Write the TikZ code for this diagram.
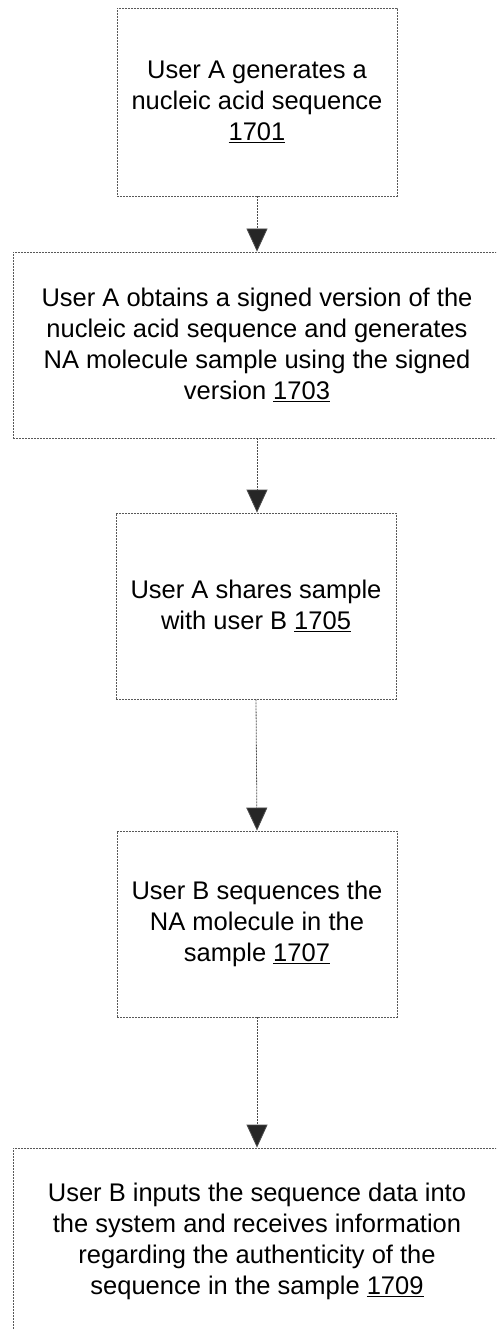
\documentclass[tikz,border=0pt]{standalone}
\usepackage{fontspec}
\setmainfont{Liberation Sans}
\usetikzlibrary{arrows.meta}

\tikzset{
  stepbox/.style={draw=black!65, line width=0.8pt, dash pattern=on 2pt off 1pt,
    rectangle, align=center, inner sep=0pt,
    font=\fontsize{25.5}{31}\selectfont},
  flow/.style={draw=black!70, line width=0.8pt, dash pattern=on 2pt off 1pt,
    -{Triangle[length=23pt,width=21pt,fill=black!85]}}
}

\begin{document}
\begin{tikzpicture}[x=1pt, y=-1pt]
  \useasboundingbox (0,0) rectangle (496,1329);
  \clip (0,0) rectangle (496,1329);

  % process steps
  \node[stepbox, minimum width=280pt, minimum height=188pt] (s1) at (257,102)
    {User A generates a\\ nucleic acid sequence\\ \underline{1701}};
  \node[stepbox, minimum width=488pt, minimum height=186pt] (s2) at (257,345)
    {User A obtains a signed version of the\\ nucleic acid sequence and generates\\
     NA molecule sample using the signed\\ version \underline{1703}};
  \node[stepbox, minimum width=280pt, minimum height=186pt] (s3) at (256,606)
    {User A shares sample\\ with user B \underline{1705}};
  \node[stepbox, minimum width=280pt, minimum height=186pt] (s4) at (257,924)
    {User B sequences the\\ NA molecule in the\\ sample \underline{1707}};
  \node[stepbox, minimum width=488pt, minimum height=186pt] (s5) at (257,1241)
    {User B inputs the sequence data into\\ the system and receives information\\
     regarding the authenticity of the\\ sequence in the sample \underline{1709}};

  % connectors
  \draw[flow] (s1.south) -- (s2.north);
  \draw[flow] (s2.south) -- (s3.north -| s2.south);
  \draw[flow] (s3.south) -- (s4.north);
  \draw[flow] (s4.south) -- (s5.north);
\end{tikzpicture}
\end{document}
